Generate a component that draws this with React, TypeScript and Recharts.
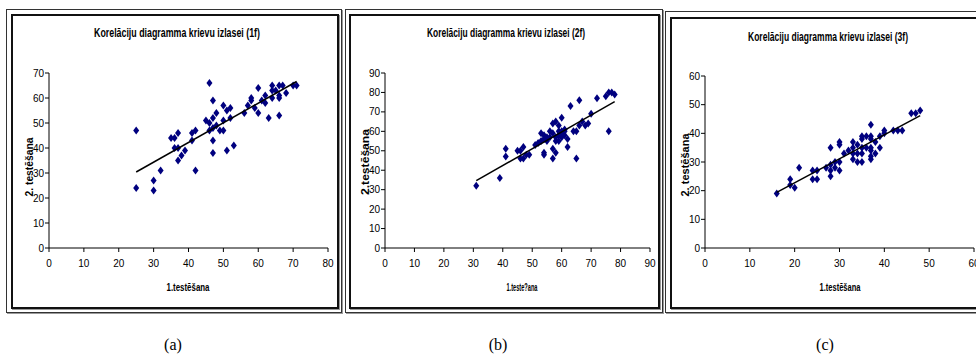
import React from 'react';
import { ScatterChart, Scatter, XAxis, YAxis } from 'recharts';

// (a) krievu izlase 1f
const xA = [25, 25, 30, 30, 32, 35, 36, 36, 37, 37, 37, 38, 39, 41, 41, 42, 42, 45, 46, 46, 46, 47, 47, 47, 47, 47, 48, 48, 49, 50, 50, 50, 51, 51, 52, 52, 53, 56, 57, 58, 58, 59, 60, 60, 61, 62, 62, 63, 64, 64, 64, 65, 66, 66, 66, 66, 67, 68, 70, 71];
const yA = [47, 24, 27, 23, 31, 44, 44, 40, 40, 46, 35, 37, 39, 43, 46, 47, 31, 51, 66, 50, 47, 52, 59, 43, 38, 48, 54, 49, 47, 57, 51, 47, 55, 39, 56, 52, 41, 54, 57, 60, 59, 56, 64, 54, 59, 61, 58, 52, 65, 63, 60, 63, 65, 61, 60, 53, 65, 62, 65, 65];
const trendAX = [25, 71];
const trendAY = [30.4, 66.6];

// (b) krievu izlase 2f
const xB = [31, 39, 41, 41, 45, 46, 46, 47, 47, 48, 49, 51, 52, 53, 54, 54, 54, 54, 55, 56, 57, 57, 57, 58, 58, 58, 59, 59, 59, 60, 60, 60, 61, 61, 62, 62, 63, 64, 65, 65, 66, 66, 67, 68, 69, 70, 72, 75, 76, 76, 77, 78, 53, 55, 56, 57, 58, 59, 60, 61];
const yB = [32, 36, 51, 47, 50, 50, 46, 52, 46, 48, 48, 53, 54, 59, 58, 49, 48, 56, 57, 60, 64, 51, 46, 65, 55, 49, 63, 58, 55, 67, 60, 57, 60, 58, 56, 52, 73, 60, 60, 46, 76, 63, 65, 63, 64, 69, 77, 78, 80, 60, 80, 79, 55, 55, 57, 59, 57, 60, 59, 61];
const trendBX = [31, 78];
const trendBY = [34.6, 75.3];

// (c) krievu izlase 3f
const xC = [16, 19, 19, 20, 21, 24, 24, 25, 25, 27, 28, 28, 28, 28, 29, 29, 30, 30, 30, 30, 31, 32, 33, 33, 33, 33, 34, 34, 34, 35, 35, 35, 35, 35, 36, 36, 37, 37, 37, 37, 37, 37, 37, 38, 38, 39, 39, 40, 40, 42, 43, 44, 46, 47, 48];
const yC = [19, 24, 22, 21, 28, 27, 24, 27, 24, 28, 35, 29, 27, 25, 30, 28, 37, 36, 30, 27, 33, 34, 37, 35, 33, 31, 36, 33, 30, 39, 38, 35, 33, 30, 39, 35, 43, 39, 38, 35, 34, 32, 31, 37, 33, 39, 35, 41, 40, 41, 41, 41, 47, 47, 48];
const trendCX = [16, 48];
const trendCY = [19.4, 46.2];

const ticks80 = [0, 10, 20, 30, 40, 50, 60, 70, 80];
const ticks70 = [0, 10, 20, 30, 40, 50, 60, 70];
const ticks90 = [0, 10, 20, 30, 40, 50, 60, 70, 80, 90];
const ticks60 = [0, 10, 20, 30, 40, 50, 60];

const pairs = (xs: number[], ys: number[]) => xs.map((x, i) => ({ x, y: ys[i] }));

const tickFont = { fontSize: 10, fill: '#000', fontFamily: "'Liberation Sans', Arial, sans-serif" };
const boldFont = "'Liberation Sans Narrow', 'Liberation Sans', Arial, sans-serif";

// rombveida marķieris kā Excel
const Diamond = (props: any) => {
  const { cx, cy } = props;
  if (cx == null || cy == null) return <g />;
  return <polygon points={`${cx},${cy - 4} ${cx + 3},${cy} ${cx},${cy + 4} ${cx - 3},${cy}`} fill="#00007f" />;
};

const NoDot = () => <g />;

interface PanelProps {
  left: number; top: number; width: number; height: number;
  yWidth: number; right: number;
  xTicks: number[]; yTicks: number[];
  points: { x: number; y: number }[];
  trend: { x: number; y: number }[];
}

const Panel: React.FC<PanelProps> = ({ left, top, width, height, yWidth, right, xTicks, yTicks, points, trend }) => (
  <div style={{ position: 'absolute', left, top }}>
    <ScatterChart width={width} height={height} margin={{ top: 58, right, bottom: 30, left: 0 }}>
      <XAxis type="number" dataKey="x" domain={[0, xTicks[xTicks.length - 1]]} ticks={xTicks} interval={0}
        allowDataOverflow height={30} tickSize={4} tickMargin={8} tick={tickFont}
        axisLine={{ stroke: '#000' }} tickLine={{ stroke: '#000' }} />
      <YAxis type="number" dataKey="y" domain={[0, yTicks[yTicks.length - 1]]} ticks={yTicks} interval={0}
        allowDataOverflow width={yWidth} tickSize={4} tickMargin={1} tick={tickFont}
        axisLine={{ stroke: '#000' }} tickLine={{ stroke: '#000' }} />
      <Scatter data={points} shape={<Diamond />} isAnimationActive={false} />
      <Scatter data={trend} shape={<NoDot />} line={{ stroke: '#000', strokeWidth: 1.5 }} isAnimationActive={false} />
    </ScatterChart>
  </div>
);

const Frame = ({ ol, ot, ow, oh, il, it, iw, ih }: any) => (
  <>
    <div style={{ position: 'absolute', left: ol, top: ot, width: ow, height: oh, border: '1px solid #333', boxShadow: '1px 1px 0 #999' }} />
    <div style={{ position: 'absolute', left: il, top: it, width: iw, height: ih, border: '2px solid #111', boxShadow: '1px 1px 0 #999', background: '#fff' }} />
  </>
);

const FitText = ({ x, y, len, size, children, rotate }: any) => (
  <text x={x} y={y} textAnchor="middle" dominantBaseline="central" fontSize={size} fontWeight="bold"
    fontFamily={boldFont} textLength={len} lengthAdjust="spacingAndGlyphs"
    transform={rotate ? `rotate(-90 ${x} ${y})` : undefined}>{children}</text>
);

const letterStyle: React.CSSProperties = {
  position: 'absolute', top: 336, width: 40, textAlign: 'center',
  fontFamily: "'Liberation Serif', 'Times New Roman', serif", fontSize: 16, color: '#000'
};

export default function App() {
  return (
    <div style={{ position: 'absolute', left: 0, top: 0, width: 976, height: 363, overflow: 'hidden', background: '#fff' }}>
      <Frame ol={6} ot={9} ow={334} oh={302} il={11} it={14} iw={324} ih={291} />
      <Frame ol={345} ot={9} ow={316} oh={302} il={349} it={14} iw={307} ih={291} />
      <Frame ol={665} ot={11} ow={330} oh={300} il={670} it={17} iw={320} ih={288} />

      <Panel left={12} top={15} width={326} height={293} yWidth={37} right={10}
        xTicks={ticks80} yTicks={ticks70} points={pairs(xA, yA)} trend={pairs(trendAX, trendAY)} />
      <Panel left={350} top={15} width={309} height={293} yWidth={35} right={9}
        xTicks={ticks90} yTicks={ticks90} points={pairs(xB, yB)} trend={pairs(trendBX, trendBY)} />
      <Panel left={671} top={18} width={314} height={290} yWidth={34} right={11}
        xTicks={ticks60} yTicks={ticks60} points={pairs(xC, yC)} trend={pairs(trendCX, trendCY)} />

      <svg width={976} height={363} style={{ position: 'absolute', left: 0, top: 0, pointerEvents: 'none' }}>
        <FitText x={177} y={33} len={166} size={12}>Korelāciju diagramma krievu izlasei (1f)</FitText>
        <FitText x={188} y={287} len={43} size={11}>1.testēšana</FitText>
        <FitText x={29} y={167} len={59} size={11} rotate>2. testēšana</FitText>

        <FitText x={506} y={33} len={158} size={12}>Korelāciju diagramma krievu izlasei (2f)</FitText>
        <FitText x={522} y={287} len={31} size={10}>1.teste?ana</FitText>
        <FitText x={365} y={162} len={66} size={11} rotate>2.testēšana</FitText>

        <FitText x={828} y={37} len={160} size={12}>Korelāciju diagramma krievu izlasei (3f)</FitText>
        <FitText x={840} y={287} len={41} size={11}>1.testēšana</FitText>
        <FitText x={685} y={165} len={63} size={11} rotate>2. testēšana</FitText>
      </svg>

      <div style={{ ...letterStyle, left: 153 }}>(a)</div>
      <div style={{ ...letterStyle, left: 478 }}>(b)</div>
      <div style={{ ...letterStyle, left: 805 }}>(c)</div>
    </div>
  );
}
